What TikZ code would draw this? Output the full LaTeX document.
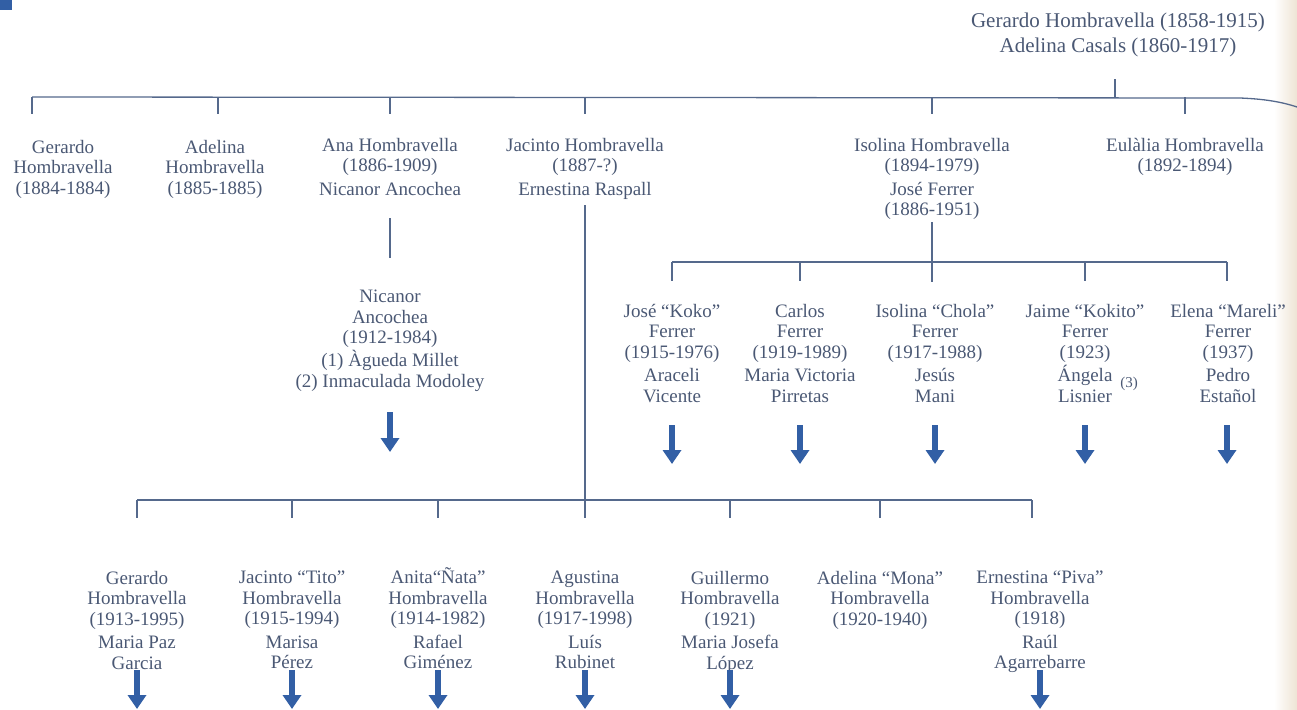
\documentclass[tikz,border=0pt]{standalone}
\usepackage{fontspec}
\setmainfont{Liberation Serif}
\usetikzlibrary{arrows.meta}
\definecolor{txt}{RGB}{74,88,116}
\definecolor{ln}{RGB}{85,105,140}
\definecolor{arr}{RGB}{50,95,165}
\definecolor{gutter}{RGB}{238,228,212}
\begin{document}
\begin{tikzpicture}[x=1pt,y=-1pt,
  person/.style={text=txt,align=center,font=\fontsize{19}{20.5}\selectfont,inner sep=0pt,anchor=north},
  top/.style={person,font=\fontsize{21}{23}\selectfont},
  note/.style={text=txt,font=\fontsize{15}{16}\selectfont,inner sep=0pt},
  link/.style={draw=ln,line width=1.3pt},
  down/.style={draw=arr,line width=5.5pt,-{Triangle[width=18pt,length=14pt]}}]
\useasboundingbox (0,0) rectangle (1297,709);
% scan background details
\shade[left color=white,right color=gutter,draw=none] (1274,0) rectangle (1297,709);
\fill[arr] (0,0) rectangle (12,10);

% parents
\node[top] (parents) at (1118,13) {Gerardo Hombravella (1858-1915)\\[2pt]Adelina Casals (1860-1917)};
\coordinate (ps) at (1115,79);
\coordinate (b1L) at (32,97);
\coordinate (b1R) at (1240,98);
\coordinate (b1E) at (1297,107);
\draw[link] (ps) -- (ps |- b1L);
\draw[link] (b1L) -- (b1R) .. controls (1265,99) and (1282,102) .. (b1E);

% generation 1
\node[person] (g1) at (63,140) {Gerardo\\Hombravella\\(1884-1884)};
\node[person] (g2) at (215,140) {Adelina\\Hombravella\\(1885-1885)};
\node[person] (g3) at (390,138) {Ana Hombravella\\(1886-1909)\\[3pt]Nicanor Ancochea};
\node[person] (g4) at (585,138) {Jacinto Hombravella\\(1887-?)\\[3pt]Ernestina Raspall};
\node[person] (g5) at (932,138) {Isolina Hombravella\\(1894-1979)\\[3pt]José Ferrer\\(1886-1951)};
\node[person] (g6) at (1185,138) {Eulàlia Hombravella\\(1892-1894)};
\foreach \n/\x in {d1/32,d2/218,d3/390,d4/585,d5/932,d6/1185}{
  \coordinate (\n) at (\x,114);
  \draw[link] (\n |- b1L) -- (\n);
}

% Ana's line
\coordinate (a1) at (390,218);
\coordinate (a2) at (390,258);
\draw[link] (a1) -- (a2);
\node[person] (n1) at (390,290) {Nicanor\\Ancochea\\(1912-1984)\\[2pt](1) Àgueda Millet\\[1pt](2) Inmaculada Modoley};
\coordinate (n1a) at (390,412);
\coordinate (n1b) at (390,452);
\draw[down] (n1a) -- (n1b);

% Isolina's children
\coordinate (i1) at (932,222);
\coordinate (i2) at (932,282);
\draw[link] (i1) -- (i2);
\coordinate (mL) at (672,262);
\coordinate (mR) at (1227,262);
\draw[link] (mL) -- (mR);
\foreach \n/\x in {e1/672,e2/800,e4/1085,e5/1227}{
  \coordinate (\n) at (\x,281);
  \draw[link] (\n |- mL) -- (\n);
}
\node[person] (f1) at (672,304) {José “Koko”\\Ferrer\\(1915-1976)\\[3pt]Araceli\\Vicente};
\node[person] (f2) at (800,304) {Carlos\\Ferrer\\(1919-1989)\\[3pt]Maria Victoria\\Pirretas};
\node[person] (f3) at (935,304) {Isolina “Chola”\\Ferrer\\(1917-1988)\\[3pt]Jesús\\Mani};
\node[person] (f4) at (1085,304) {Jaime “Kokito”\\Ferrer\\(1923)\\[3pt]Ángela\\Lisnier};
\node[note] (f4n) at (1129,384) {(3)};
\node[person] (f5) at (1228,304) {Elena “Mareli”\\Ferrer\\(1937)\\[3pt]Pedro\\Estañol};
\foreach \n/\x in {f1/672,f2/800,f3/935,f4/1085,f5/1227}{
  \coordinate (\n a) at (\x,425);
  \coordinate (\n b) at (\x,464);
  \draw[down] (\n a) -- (\n b);
}

% Jacinto's children
\coordinate (j1) at (585,205);
\coordinate (j2) at (585,518);
\draw[link] (j1) -- (j2);
\coordinate (cL) at (137,500);
\coordinate (cR) at (1032,500);
\draw[link] (cL) -- (cR);
\foreach \n/\x in {k1/137,k2/292,k3/438,k5/730,k6/880,k7/1032}{
  \coordinate (\n) at (\x,518);
  \draw[link] (\n |- cL) -- (\n);
}
\node[person] (c1) at (137,571) {Gerardo\\Hombravella\\(1913-1995)\\[3pt]Maria Paz\\Garcia};
\node[person] (c2) at (292,571) {Jacinto “Tito”\\Hombravella\\(1915-1994)\\[3pt]Marisa\\Pérez};
\node[person] (c3) at (438,567.5) {Anita“Ñata”\\Hombravella\\(1914-1982)\\[3pt]Rafael\\Giménez};
\node[person] (c4) at (585,571) {Agustina\\Hombravella\\(1917-1998)\\[3pt]Luís\\Rubinet};
\node[person] (c5) at (730,571) {Guillermo\\Hombravella\\(1921)\\[3pt]Maria Josefa\\López};
\node[person] (c6) at (880,571) {Adelina “Mona”\\Hombravella\\(1920-1940)};
\node[person] (c7) at (1040,571) {Ernestina “Piva”\\Hombravella\\(1918)\\[3pt]Raúl\\Agarrebarre};
\foreach \n/\x in {c1/137,c2/292,c3/438,c4/585,c5/730,c7/1040}{
  \coordinate (\n a) at (\x,670);
  \coordinate (\n b) at (\x,709);
  \draw[down] (\n a) -- (\n b);
}
\end{tikzpicture}
\end{document}
